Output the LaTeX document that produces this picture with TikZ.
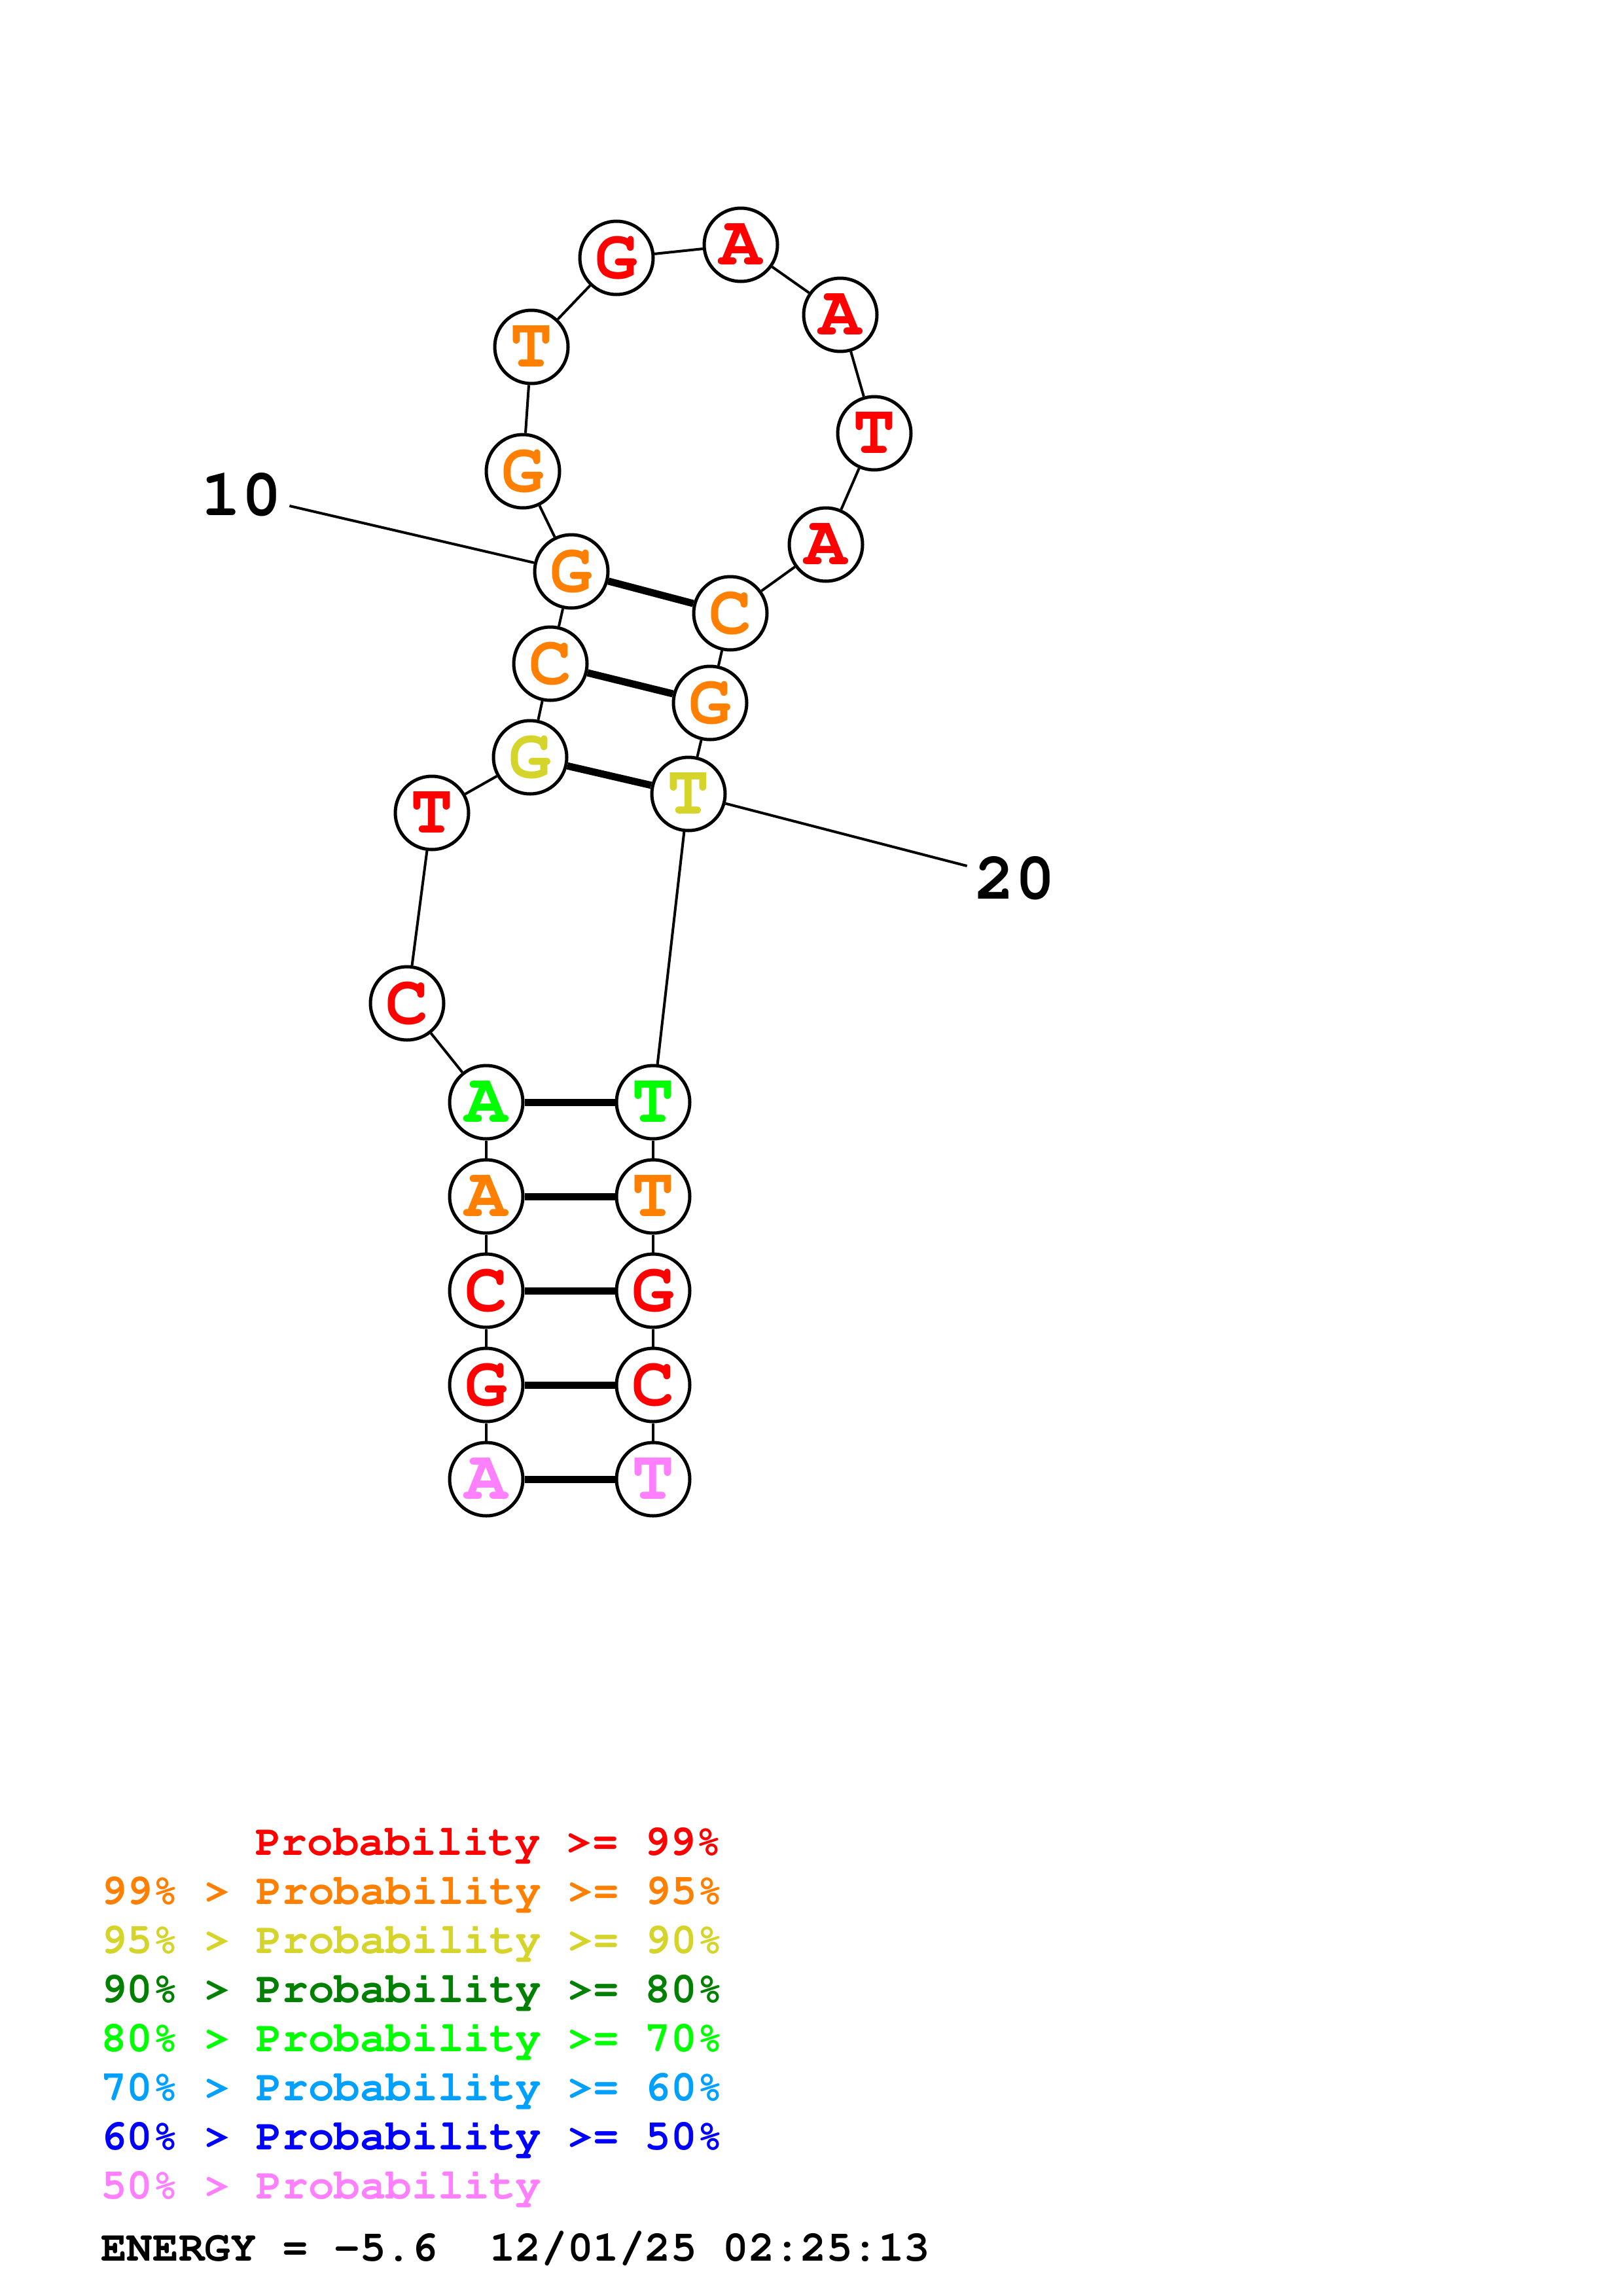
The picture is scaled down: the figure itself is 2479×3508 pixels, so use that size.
\documentclass[tikz,border=0pt]{standalone}
\usepackage[T1]{fontenc}
\newcommand{\pcrfont}{\fontfamily{pcr}\fontseries{b}\selectfont}
\definecolor{pR}{RGB}{255,0,0}
\definecolor{pO}{RGB}{255,128,0}
\definecolor{pY}{RGB}{212,212,42}
\definecolor{pDG}{RGB}{0,128,0}
\definecolor{pG}{RGB}{0,255,0}
\definecolor{pLB}{RGB}{0,160,255}
\definecolor{pB}{RGB}{0,0,255}
\definecolor{pP}{RGB}{255,128,255}
\begin{document}
\begin{tikzpicture}[x=1pt,y=-1pt,
  base/.style={circle,draw=black,line width=5pt,fill=white,minimum size=112pt,inner sep=0pt,
    font=\fontsize{108}{108}\pcrfont},
  bb/.style={line width=4pt},
  bp/.style={line width=11pt},
  numlab/.style={inner sep=12pt,font=\fontsize{102}{102}\pcrfont},
  leg/.style={anchor=base west,inner sep=0pt,font=\fontsize{66}{66}\pcrfont}]
\useasboundingbox (0,0) rectangle (2479,3508);
% nucleotides
\node[base,text=pP]  (n1)  at (743,2260) {A};
\node[base,text=pR]  (n2)  at (743,2116) {G};
\node[base,text=pR]  (n3)  at (743,1972) {C};
\node[base,text=pO]  (n4)  at (743,1828) {A};
\node[base,text=pG]  (n5)  at (743,1684) {A};
\node[base,text=pR]  (n6)  at (622,1533) {C};
\node[base,text=pR]  (n7)  at (660,1242) {T};
\node[base,text=pY]  (n8)  at (810,1157) {G};
\node[base,text=pO]  (n9)  at (841,1014) {C};
\node[base,text=pO]  (n10) at (873,873) {G};
\node[base,text=pO]  (n11) at (799,720) {G};
\node[base,text=pO]  (n12) at (812,530) {T};
\node[base,text=pR]  (n13) at (942,394) {G};
\node[base,text=pR]  (n14) at (1132,374) {A};
\node[base,text=pR]  (n15) at (1284,481) {A};
\node[base,text=pR]  (n16) at (1336,662) {T};
\node[base,text=pR]  (n17) at (1262,832) {A};
\node[base,text=pO]  (n18) at (1116,937) {C};
\node[base,text=pO]  (n19) at (1085,1074) {G};
\node[base,text=pY]  (n20) at (1052,1213) {T};
\node[base,text=pG]  (n21) at (998,1684) {T};
\node[base,text=pO]  (n22) at (998,1828) {T};
\node[base,text=pR]  (n23) at (998,1972) {G};
\node[base,text=pR]  (n24) at (998,2116) {C};
\node[base,text=pP]  (n25) at (998,2260) {T};
% backbone
\foreach \a/\b in {1/2,2/3,3/4,4/5,5/6,6/7,7/8,8/9,9/10,10/11,11/12,12/13,13/14,14/15,15/16,16/17,17/18,18/19,19/20,20/21,21/22,22/23,23/24,24/25}
  \draw[bb] (n\a) -- (n\b);
% pairs
\foreach \a/\b in {1/25,2/24,3/23,4/22,5/21,8/20,9/19,10/18}
  \draw[bp] (n\a) -- (n\b);
% numbering
\node[numlab] (l10) at (369,756) {10};
\node[numlab] (l20) at (1551,1342) {20};
\draw[bb] (l10) -- (n10);
\draw[bb] (n20) -- (l20);
% legend
\node[leg,text=pR]  (g1) at (390,2834) {Probability >= 99\%};
\node[leg,text=pO]  (g2) at (154,2909) {99\% > Probability >= 95\%};
\node[leg,text=pY]  (g3) at (154,2984) {95\% > Probability >= 90\%};
\node[leg,text=pDG] (g4) at (154,3059) {90\% > Probability >= 80\%};
\node[leg,text=pG]  (g5) at (154,3134) {80\% > Probability >= 70\%};
\node[leg,text=pLB] (g6) at (154,3209) {70\% > Probability >= 60\%};
\node[leg,text=pB]  (g7) at (154,3284) {60\% > Probability >= 50\%};
\node[leg,text=pP]  (g8) at (154,3359) {50\% > Probability};
\node[leg,text=black] (en) at (154,3454) {ENERGY = -5.6\ \ 12/01/25 02:25:13};
\end{tikzpicture}
\end{document}
